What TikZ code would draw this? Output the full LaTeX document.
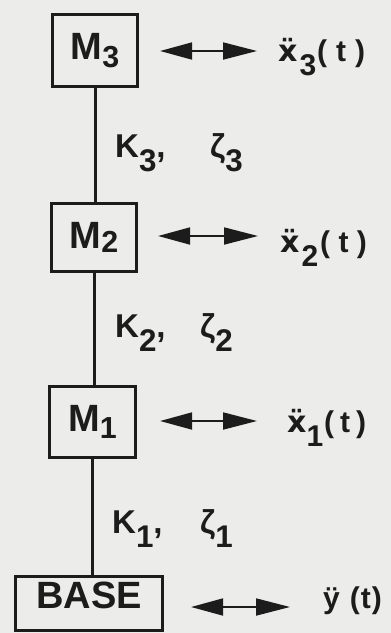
\documentclass[tikz,border=0pt]{standalone}
\usepackage{fontspec}
\setmainfont{Liberation Sans}
\newfontfamily\dv{DejaVu Sans}
\usepackage{graphicx}
\usetikzlibrary{arrows.meta}
\definecolor{paper}{RGB}{236,236,234}
\definecolor{ink}{RGB}{28,28,28}
\newcommand\sbx[3]{\raisebox{-#1}{\scalebox{#2}{#3}}}
\newcommand\ddx{{\dv\bfseries ẍ}}
\begin{document}
\begin{tikzpicture}[x=1pt,y=-1pt,
  every node/.style={text=ink},
  mass/.style={draw=ink, line width=3.2pt, inner sep=0pt, font=\fontsize{38}{40}\selectfont\bfseries},
  kl/.style={anchor=base west, inner sep=0pt, font=\fontsize{33}{35}\selectfont\bfseries},
  al/.style={anchor=base west, inner sep=0pt, font=\fontsize{30}{32}\selectfont\bfseries},
  link/.style={draw=ink, line width=3pt},
  dbl/.style={draw=ink, line width=1.8pt, {Triangle[length=32pt,width=17pt]}-{Triangle[length=34pt,width=17pt]}}
]
\fill[paper] (0,0) rectangle (391,633);
\useasboundingbox (0,0) rectangle (391,633);

% masses
\node[mass, minimum width=85pt, minimum height=72pt] (M3) at (95,50.5) {M\sbx{0.22em}{0.8}{3}};
\node[mass, minimum width=85pt, minimum height=68pt] (M2) at (94,237.5) {M\sbx{0.1em}{0.8}{2}};
\node[mass, minimum width=86pt, minimum height=71pt] (M1) at (92.5,422) {M\sbx{0.2em}{0.8}{1}};
\node[mass, minimum width=147pt, minimum height=54pt, text depth=16pt] (B) at (89,603.5) {BASE};

% links
\draw[link] (M3.south) -- (M3.south |- M2.north);
\draw[link] (M2.south) -- (M2.south |- M1.north);
\draw[link] (M1.south) -- (M1.south |- B.north);

% stiffness / damping labels
\node[kl] (K3) at (115,157) {\makebox[95pt][l]{K\sbx{0.45em}{0.95}{3},}ζ\sbx{0.45em}{0.95}{3}};
\node[kl] (K2) at (115,337) {\makebox[85pt][l]{K\sbx{0.45em}{0.95}{2},}ζ\sbx{0.45em}{0.95}{2}};
\node[kl] (K1) at (112,533) {\makebox[88pt][l]{K\sbx{0.45em}{0.95}{1},}ζ\sbx{0.45em}{0.95}{1}};

% response labels
\node[al] (X3) at (278,61) {\ddx\hspace{2pt}\sbx{0.47em}{1}{3}\hspace{1pt}(\hspace{0.3em}t\hspace{0.3em})};
\node[al] (X2) at (280,252) {\ddx\hspace{2pt}\sbx{0.47em}{1}{2}\hspace{2pt}(\hspace{0.28em}t\hspace{0.28em})};
\node[al] (X1) at (287,432) {\ddx\sbx{0.47em}{1}{1}\hspace{1pt}(\hspace{0.2em}t\hspace{0.2em})};
\node[al] (Y) at (323,608) {ÿ\hspace{10pt}(\hspace{1pt}t\hspace{1pt})};

% arrows
\draw[dbl, shorten <=21pt, shorten >=21pt] ([yshift=-0.5pt]M3.east) -- ([yshift=-0.5pt]M3.east -| X3.west);
\draw[dbl, shorten <=20pt, shorten >=22pt] ([yshift=1.5pt]M2.east) -- ([yshift=1.5pt]M2.east -| X2.west);
\draw[dbl, shorten <=23pt, shorten >=30pt] ([yshift=1pt]M1.east) -- ([yshift=1pt]M1.east -| X1.west);
\draw[dbl, shorten <=27pt, shorten >=33pt] ([yshift=-3.5pt]B.east) -- ([yshift=-3.5pt]B.east -| Y.west);
\end{tikzpicture}
\end{document}
